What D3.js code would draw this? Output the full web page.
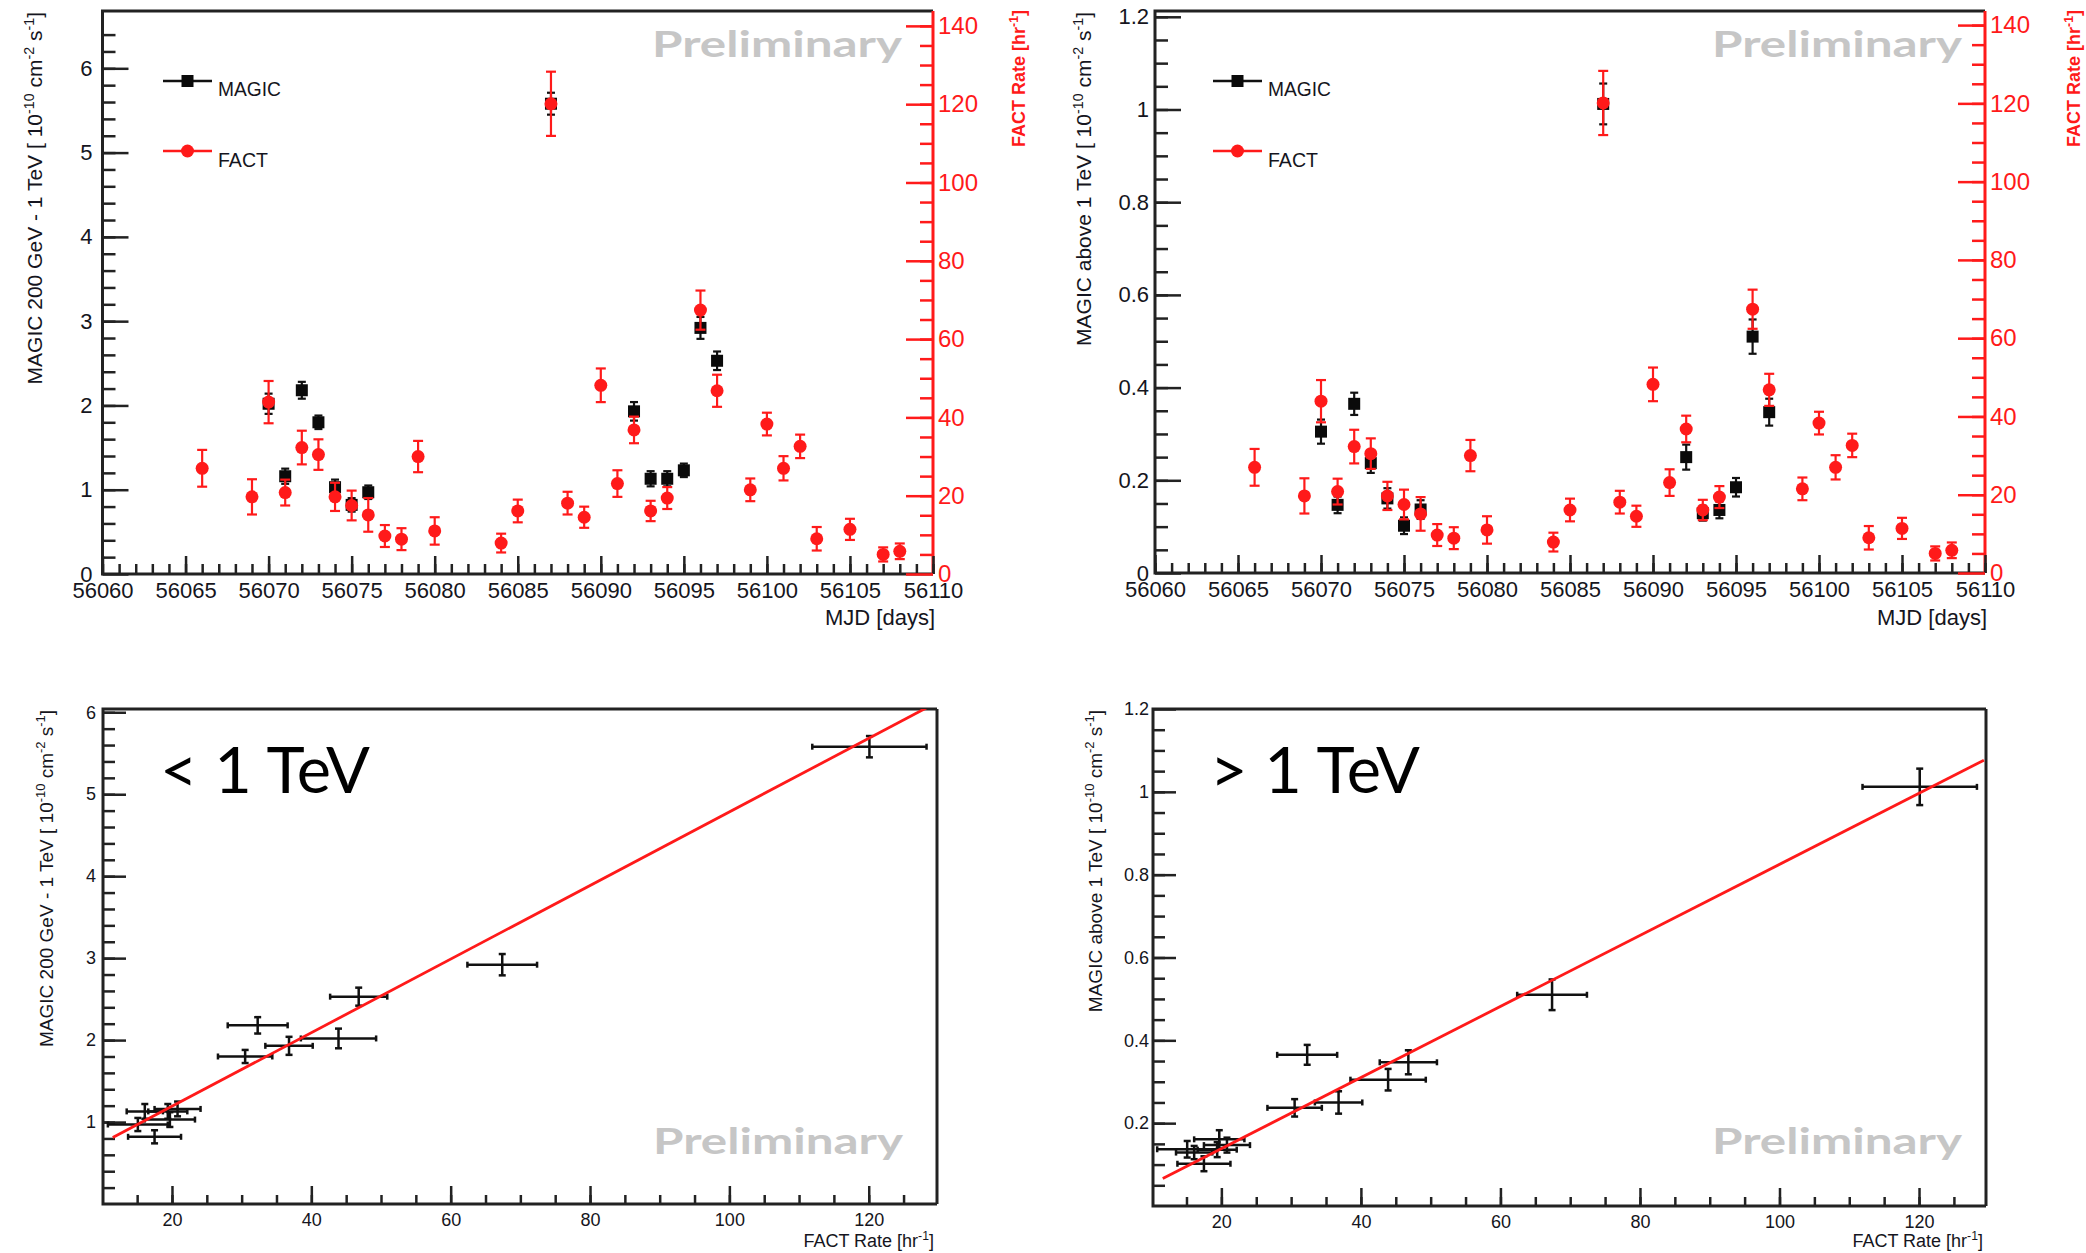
<!DOCTYPE html>
<html>
<head>
<meta charset="utf-8">
<script src="https://cdn.jsdelivr.net/npm/d3@7"></script>
<style>
body { margin: 0; background: #fff; }
svg { display: block; }
</style>
</head>
<body>
<div id="chart"></div>
<script>
// FACT nightly rate [hr^-1]
const factDays = [56066, 56069, 56070, 56071, 56072, 56073, 56074, 56075, 56076, 56077, 56078, 56079, 56080,
    56084, 56085, 56087, 56088, 56089, 56090, 56091, 56092, 56093, 56094, 56096, 56097,
    56099, 56100, 56101, 56102, 56103, 56105, 56107, 56108];
const factRate = [27.0, 19.7, 43.9, 20.8, 32.3, 30.5, 19.7, 17.5, 15.1, 9.7, 8.9, 30.0, 11.0,
    7.9, 16.1, 120.1, 18.1, 14.5, 48.2, 23.1, 36.8, 16.1, 19.4, 67.4, 46.8,
    21.5, 38.3, 27.0, 32.6, 9.0, 11.4, 5.0, 5.8];
const factErr = [4.7, 4.5, 5.4, 3.3, 4.3, 3.9, 3.6, 3.8, 4.3, 2.8, 2.8, 4.0, 3.5,
    2.4, 2.9, 8.2, 2.9, 2.7, 4.3, 3.4, 3.4, 2.6, 2.8, 5.0, 4.1,
    2.9, 2.9, 3.1, 3.0, 3.0, 2.7, 1.8, 2.0];

// MAGIC nightly flux [1e-10 cm^-2 s^-1]
const magicDays = [56070, 56071, 56072, 56073, 56074, 56075, 56076, 56087, 56092, 56093, 56094, 56095, 56096, 56097];
const magicLow = [2.02, 1.16, 2.18, 1.80, 1.03, 0.82, 0.97, 5.58, 1.93, 1.13, 1.13, 1.23, 2.92, 2.53];
const magicLowErr = [0.12, 0.09, 0.10, 0.08, 0.09, 0.08, 0.08, 0.13, 0.11, 0.09, 0.09, 0.08, 0.13, 0.11];
const magicHigh = [0.305, 0.147, 0.365, 0.237, 0.161, 0.102, 0.137, 1.012, 0.250, 0.129, 0.136, 0.185, 0.510, 0.347];
const magicHighErr = [0.026, 0.018, 0.024, 0.021, 0.022, 0.018, 0.020, 0.044, 0.027, 0.016, 0.018, 0.020, 0.037, 0.029];

// linear fits MAGIC vs FACT
const fitLow = { intercept: 0.294, slope: 0.0449, from: 11.5, to: 130 };
const fitHigh = { intercept: -0.033, slope: 0.00858, from: 11.6, to: 129.3 };

const dayTicks = d3.range(56060, 56111, 5);
const rateTicks = d3.range(0, 141, 20);
const lowTicks = [0, 1, 2, 3, 4, 5, 6];
const highTicks = [0, 0.2, 0.4, 0.6, 0.8, 1, 1.2];
const corrXTicks = [20, 40, 60, 80, 100, 120];

const FONT = "'Liberation Sans', Arial, Helvetica, sans-serif";
const RED = "#ff1a1a";
const INK = "#222";

const svg = d3.select("#chart").append("svg").attr("width", 2086).attr("height", 1253)
    .attr("font-family", FONT);

function rich(sel, parts, size) {
    let up = false;
    parts.forEach(s => {
        const sup = s.startsWith("^");
        const t = sel.append("tspan").text(sup ? s.slice(1) : s);
        if(sup) t.attr("font-size", size * 0.68).attr("dy", up ? 0 : -size * 0.4);
        else if(up) t.attr("dy", size * 0.4);
        up = sup;
    });
}

function styleAxis(g, color, width, size) {
    g.attr("font-family", FONT).attr("font-size", size);
    g.select(".domain").remove();
    g.selectAll("line").attr("stroke", color).attr("stroke-width", width);
    g.selectAll("text").attr("fill", color === RED ? RED : "#151520");
}

function frame(p, rightColor) {
    const f = svg.append("g").attr("fill", "none").attr("stroke-width", 3);
    f.append("path").attr("stroke", INK)
        .attr("d", `M${p.right},${p.top}H${p.left}V${p.bottom}H${p.right}`);
    f.append("line").attr("stroke", rightColor)
        .attr("x1", p.right).attr("x2", p.right).attr("y1", p.top).attr("y2", p.bottom);
}

function prelim(x, y) {
    svg.append("text").attr("x", x).attr("y", y).text("Preliminary")
        .attr("font-family", "Lato, 'Open Sans', sans-serif").attr("font-weight", 700)
        .attr("font-size", 37).attr("fill", "#c6c6c6")
        .attr("textLength", 250).attr("lengthAdjust", "spacingAndGlyphs");
}

function timePanel(p) {
    const x = d3.scaleLinear().domain([56060, 56110]).range([p.left, p.right]);
    const yL = d3.scaleLinear().domain([0, p.yMax]).range([p.bottom, p.top]);
    const yR = d3.scaleLinear().domain([0, p.rateMax]).range([p.bottom, p.top]);

    frame(p, RED);

    svg.append("g").attr("transform", `translate(0,${p.bottom})`)
        .call(d3.axisBottom(x).tickValues(d3.range(56060, 56111, 1)).tickSize(-10).tickFormat(""))
        .call(g => styleAxis(g, INK, 2.5, 22));
    svg.append("g").attr("transform", `translate(0,${p.bottom})`)
        .call(d3.axisBottom(x).tickValues(dayTicks).tickSizeInner(-18).tickSizeOuter(0).tickPadding(8).tickFormat(d3.format("d")))
        .call(g => styleAxis(g, INK, 2.5, 22));

    svg.append("g").attr("transform", `translate(${p.left},0)`)
        .call(d3.axisLeft(yL).tickValues(p.yMinor).tickSize(-13).tickFormat(""))
        .call(g => styleAxis(g, INK, 2.5, 22));
    svg.append("g").attr("transform", `translate(${p.left},0)`)
        .call(d3.axisLeft(yL).tickValues(p.yTicks).tickSizeInner(-26).tickSizeOuter(0).tickPadding(p.yPad).tickFormat(d => String(+d.toFixed(1))))
        .call(g => styleAxis(g, INK, 2.5, 22));

    svg.append("g").attr("transform", `translate(${p.right},0)`)
        .call(d3.axisRight(yR).tickValues(d3.range(5, 144, 5)).tickSize(-13).tickFormat(""))
        .call(g => styleAxis(g, RED, 2.5, 24));
    svg.append("g").attr("transform", `translate(${p.right},0)`)
        .call(d3.axisRight(yR).tickValues(rateTicks).tickSizeInner(-27).tickSizeOuter(0).tickPadding(5))
        .call(g => styleAxis(g, RED, 2.5, 24));

    // titles
    svg.append("text").attr("transform", `translate(${p.right + 2},625)`).attr("text-anchor", "end")
        .attr("font-size", 22).attr("fill", "#151520")
        .attr("textLength", 110).attr("lengthAdjust", "spacingAndGlyphs").text("MJD [days]");
    const yt = svg.append("text").attr("transform", `translate(${p.titleX},12) rotate(-90)`)
        .attr("text-anchor", "end").attr("font-size", 21).attr("fill", "#151520");
    rich(yt, p.yTitle, 21);
    const rt = svg.append("text").attr("transform", `translate(${p.redTitleX},10) rotate(-90)`)
        .attr("text-anchor", "end").attr("font-size", 18).attr("font-weight", 700).attr("fill", RED);
    rich(rt, ["FACT Rate [hr", "^-1", "]"], 18);

    prelim(p.prelimX, 57);

    // MAGIC points
    const m = svg.append("g");
    magicDays.forEach((d, i) => {
        const cx = x(d), v = p.magic[i], e = p.magicErr[i];
        m.append("line").attr("x1", cx).attr("x2", cx).attr("y1", yL(v - e)).attr("y2", yL(v + e))
            .attr("stroke", "#111").attr("stroke-width", 2.2);
        [v - e, v + e].forEach(w => m.append("line").attr("x1", cx - 4).attr("x2", cx + 4)
            .attr("y1", yL(w)).attr("y2", yL(w)).attr("stroke", "#111").attr("stroke-width", 2.2));
        m.append("rect").attr("x", cx - 6).attr("y", yL(v) - 6).attr("width", 12).attr("height", 12).attr("fill", "#0a0a0a");
    });

    // FACT points
    const f = svg.append("g");
    factDays.forEach((d, i) => {
        const cx = x(d), v = factRate[i], e = factErr[i];
        f.append("line").attr("x1", cx).attr("x2", cx).attr("y1", yR(v - e)).attr("y2", yR(v + e))
            .attr("stroke", RED).attr("stroke-width", 2.2);
        [v - e, v + e].forEach(w => f.append("line").attr("x1", cx - 5).attr("x2", cx + 5)
            .attr("y1", yR(w)).attr("y2", yR(w)).attr("stroke", RED).attr("stroke-width", 2.2));
        f.append("circle").attr("cx", cx).attr("cy", yR(v)).attr("r", 6.5).attr("fill", RED);
    });

    // legend
    const lg = svg.append("g");
    const lx = p.legendX;
    lg.append("line").attr("x1", lx).attr("x2", lx + 49).attr("y1", 81).attr("y2", 81).attr("stroke", "#111").attr("stroke-width", 2.5);
    lg.append("rect").attr("x", lx + 18.5).attr("y", 75).attr("width", 12).attr("height", 12).attr("fill", "#0a0a0a");
    lg.append("text").attr("x", lx + 55).attr("y", 96).attr("font-size", 21).attr("fill", "#151520")
        .attr("textLength", 63).attr("lengthAdjust", "spacingAndGlyphs").text("MAGIC");
    lg.append("line").attr("x1", lx).attr("x2", lx + 49).attr("y1", 151).attr("y2", 151).attr("stroke", RED).attr("stroke-width", 2.5);
    lg.append("circle").attr("cx", lx + 24.5).attr("cy", 151).attr("r", 6.5).attr("fill", RED);
    lg.append("text").attr("x", lx + 55).attr("y", 167).attr("font-size", 21).attr("fill", "#151520")
        .attr("textLength", 50).attr("lengthAdjust", "spacingAndGlyphs").text("FACT");
}

function corrPanel(p) {
    const x = d3.scaleLinear().domain(p.xDomain).range([p.left, p.right]);
    const y = d3.scaleLinear().domain([0, p.yMax]).range([p.bottom, p.top]);

    frame(p, INK);

    svg.append("g").attr("transform", `translate(0,${p.bottom})`)
        .call(d3.axisBottom(x).tickValues(d3.range(15, 130, 5)).tickSize(-9).tickFormat(""))
        .call(g => styleAxis(g, INK, 2.5, 18));
    svg.append("g").attr("transform", `translate(0,${p.bottom})`)
        .call(d3.axisBottom(x).tickValues(corrXTicks).tickSizeInner(-18).tickSizeOuter(0).tickPadding(9))
        .call(g => styleAxis(g, INK, 2.5, 18));
    svg.append("g").attr("transform", `translate(${p.left},0)`)
        .call(d3.axisLeft(y).tickValues(p.yMinor).tickSize(-12).tickFormat(""))
        .call(g => styleAxis(g, INK, 2.5, 18));
    svg.append("g").attr("transform", `translate(${p.left},0)`)
        .call(d3.axisLeft(y).tickValues(p.yTicks).tickSizeInner(-23).tickSizeOuter(0).tickPadding(p.yPad).tickFormat(d => String(+d.toFixed(1))))
        .call(g => styleAxis(g, INK, 2.5, 18));

    const xt = svg.append("text").attr("transform", `translate(${p.right - 3},1247)`).attr("text-anchor", "end")
        .attr("font-size", 18).attr("fill", "#151520");
    rich(xt, ["FACT Rate [hr", "^-1", "]"], 18);
    const yt = svg.append("text").attr("transform", `translate(${p.titleX},710) rotate(-90)`)
        .attr("text-anchor", "end").attr("font-size", 19).attr("fill", "#151520");
    rich(yt, p.yTitle, 19);

    prelim(p.prelimX, 1154);

    svg.append("text").attr("x", p.left + 57).attr("y", 793).attr("font-family", "Lato, 'Open Sans', sans-serif")
        .attr("font-size", 64).attr("fill", "#000")
        .attr("textLength", 210).attr("lengthAdjust", "spacingAndGlyphs").text(p.label);

    // paired nights
    const pts = [];
    magicDays.forEach((d, i) => {
        const j = factDays.indexOf(d);
        if(j >= 0) pts.push({ f: factRate[j], fe: factErr[j], m: p.magic[i], me: p.magicErr[i] });
    });
    const g = svg.append("g").attr("stroke", "#111").attr("stroke-width", 2.5);
    pts.forEach(q => {
        const cx = x(q.f), cy = y(q.m);
        g.append("line").attr("x1", x(q.f - q.fe)).attr("x2", x(q.f + q.fe)).attr("y1", cy).attr("y2", cy);
        g.append("line").attr("x1", cx).attr("x2", cx).attr("y1", y(q.m - q.me)).attr("y2", y(q.m + q.me));
        [q.f - q.fe, q.f + q.fe].forEach(w => g.append("line").attr("x1", x(w)).attr("x2", x(w)).attr("y1", cy - 3).attr("y2", cy + 3));
        [q.m - q.me, q.m + q.me].forEach(w => g.append("line").attr("x1", cx - 3.5).attr("x2", cx + 3.5).attr("y1", y(w)).attr("y2", y(w)));
    });

    const clipId = "clip" + p.left;
    svg.append("clipPath").attr("id", clipId).append("rect")
        .attr("x", p.left).attr("y", p.top).attr("width", p.right - p.left).attr("height", p.bottom - p.top);
    const fx = [p.fit.from, p.fit.to];
    svg.append("path").attr("clip-path", `url(#${clipId})`)
        .attr("d", d3.line().x(d => x(d)).y(d => y(p.fit.intercept + p.fit.slope * d))(fx))
        .attr("stroke", RED).attr("stroke-width", 2.8).attr("fill", "none");
}

const lowTitle = ["MAGIC 200 GeV - 1 TeV [ 10", "^-10", " cm", "^-2", " s", "^-1", "]"];
const highTitle = ["MAGIC above 1 TeV [ 10", "^-10", " cm", "^-2", " s", "^-1", "]"];

timePanel({
    left: 102.5, right: 933, top: 11, bottom: 574, yMax: 6.68, rateMax: 143.8,
    yTicks: lowTicks, yMinor: d3.range(0.2, 6.6, 0.2), yPad: 10,
    magic: magicLow, magicErr: magicLowErr, yTitle: lowTitle, titleX: 42, redTitleX: 1025,
    legendX: 163, prelimX: 652
});
timePanel({
    left: 1155, right: 1985, top: 11, bottom: 573, yMax: 1.2125, rateMax: 143.6,
    yTicks: highTicks, yMinor: d3.range(0.05, 1.21, 0.05), yPad: 6,
    magic: magicHigh, magicErr: magicHighErr, yTitle: highTitle, titleX: 1091, redTitleX: 2080,
    legendX: 1213, prelimX: 1712
});
corrPanel({
    left: 103, right: 937, top: 709, bottom: 1204, xDomain: [10.1, 129.8], yMax: 6.04,
    yTicks: lowTicks.slice(1), yMinor: d3.range(0.2, 6.04, 0.2), yPad: 7,
    magic: magicLow, magicErr: magicLowErr, yTitle: lowTitle, titleX: 53,
    fit: fitLow, label: "< 1 TeV", prelimX: 653
});
corrPanel({
    left: 1153, right: 1986, top: 709, bottom: 1206, xDomain: [10.2, 129.6], yMax: 1.2,
    yTicks: highTicks.slice(1), yMinor: d3.range(0.05, 1.2, 0.05), yPad: 4,
    magic: magicHigh, magicErr: magicHighErr, yTitle: highTitle, titleX: 1102,
    fit: fitHigh, label: "> 1 TeV", prelimX: 1712
});
</script>
</body>
</html>
